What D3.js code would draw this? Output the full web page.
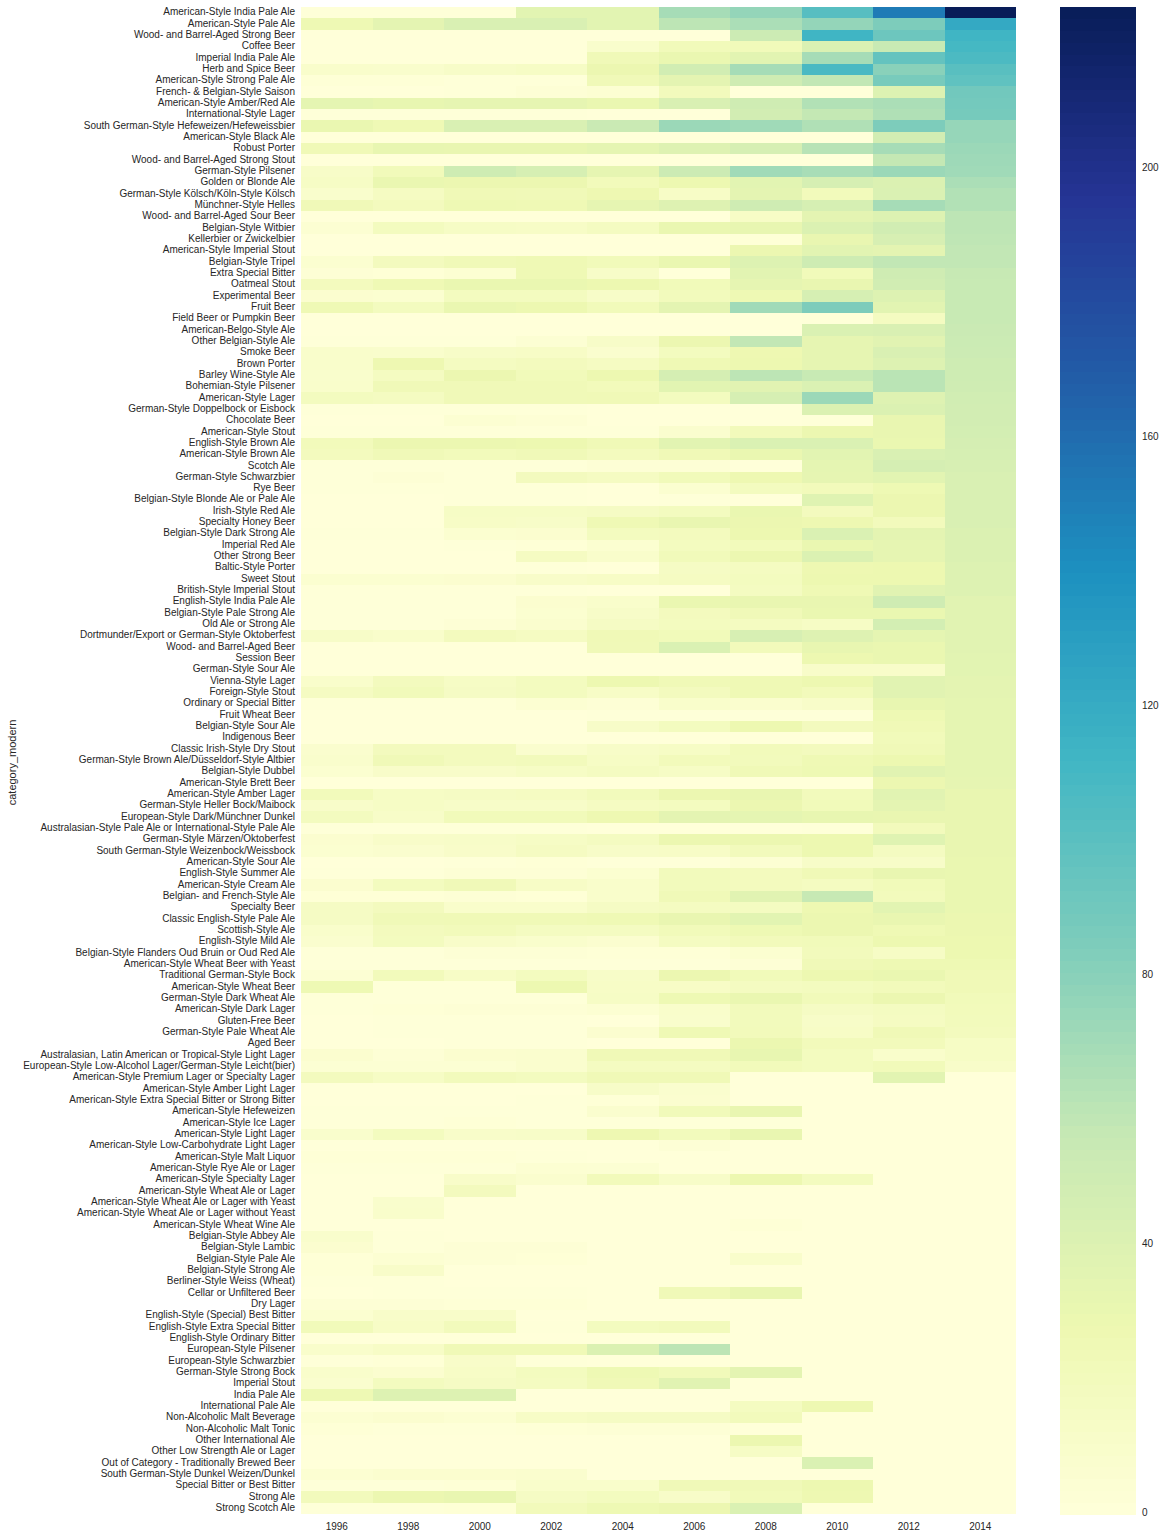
<!DOCTYPE html>
<html>
<head>
<meta charset="utf-8">
<script src="https://cdn.jsdelivr.net/npm/d3@7"></script>
<style>
  html, body { margin: 0; padding: 0; background: #fff; }
  svg { display: block; }
  text { font-family: "Liberation Sans", Arial, sans-serif; fill: #262626; }
  .tick text { font-size: 10px; }
  .axis-label { font-size: 11px; }
</style>
</head>
<body>
<svg id="chart" width="1166" height="1537"></svg>
<script>
// ----------

const YEARS = [1996, 1998, 2000, 2002, 2004, 2006, 2008, 2010, 2012, 2014];

const CATEGORIES = [
  "American-Style India Pale Ale", "American-Style Pale Ale", "Wood- and Barrel-Aged Strong Beer", "Coffee Beer",
  "Imperial India Pale Ale", "Herb and Spice Beer", "American-Style Strong Pale Ale", "French- & Belgian-Style Saison",
  "American-Style Amber/Red Ale", "International-Style Lager", "South German-Style Hefeweizen/Hefeweissbier",
  "American-Style Black Ale", "Robust Porter", "Wood- and Barrel-Aged Strong Stout", "German-Style Pilsener",
  "Golden or Blonde Ale", "German-Style Kölsch/Köln-Style Kölsch", "Münchner-Style Helles",
  "Wood- and Barrel-Aged Sour Beer", "Belgian-Style Witbier", "Kellerbier or Zwickelbier",
  "American-Style Imperial Stout", "Belgian-Style Tripel", "Extra Special Bitter", "Oatmeal Stout",
  "Experimental Beer", "Fruit Beer", "Field Beer or Pumpkin Beer", "American-Belgo-Style Ale",
  "Other Belgian-Style Ale", "Smoke Beer", "Brown Porter", "Barley Wine-Style Ale", "Bohemian-Style Pilsener",
  "American-Style Lager", "German-Style Doppelbock or Eisbock", "Chocolate Beer", "American-Style Stout",
  "English-Style Brown Ale", "American-Style Brown Ale", "Scotch Ale", "German-Style Schwarzbier", "Rye Beer",
  "Belgian-Style Blonde Ale or Pale Ale", "Irish-Style Red Ale", "Specialty Honey Beer",
  "Belgian-Style Dark Strong Ale", "Imperial Red Ale", "Other Strong Beer", "Baltic-Style Porter", "Sweet Stout",
  "British-Style Imperial Stout", "English-Style India Pale Ale", "Belgian-Style Pale Strong Ale",
  "Old Ale or Strong Ale", "Dortmunder/Export or German-Style Oktoberfest", "Wood- and Barrel-Aged Beer",
  "Session Beer", "German-Style Sour Ale", "Vienna-Style Lager", "Foreign-Style Stout", "Ordinary or Special Bitter",
  "Fruit Wheat Beer", "Belgian-Style Sour Ale", "Indigenous Beer", "Classic Irish-Style Dry Stout",
  "German-Style Brown Ale/Düsseldorf-Style Altbier", "Belgian-Style Dubbel", "American-Style Brett Beer",
  "American-Style Amber Lager", "German-Style Heller Bock/Maibock", "European-Style Dark/Münchner Dunkel",
  "Australasian-Style Pale Ale or International-Style Pale Ale", "German-Style Märzen/Oktoberfest",
  "South German-Style Weizenbock/Weissbock", "American-Style Sour Ale", "English-Style Summer Ale",
  "American-Style Cream Ale", "Belgian- and French-Style Ale", "Specialty Beer", "Classic English-Style Pale Ale",
  "Scottish-Style Ale", "English-Style Mild Ale", "Belgian-Style Flanders Oud Bruin or Oud Red Ale",
  "American-Style Wheat Beer with Yeast", "Traditional German-Style Bock", "American-Style Wheat Beer",
  "German-Style Dark Wheat Ale", "American-Style Dark Lager", "Gluten-Free Beer", "German-Style Pale Wheat Ale",
  "Aged Beer", "Australasian, Latin American or Tropical-Style Light Lager",
  "European-Style Low-Alcohol Lager/German-Style Leicht(bier)", "American-Style Premium Lager or Specialty Lager",
  "American-Style Amber Light Lager", "American-Style Extra Special Bitter or Strong Bitter",
  "American-Style Hefeweizen", "American-Style Ice Lager", "American-Style Light Lager",
  "American-Style Low-Carbohydrate Light Lager", "American-Style Malt Liquor", "American-Style Rye Ale or Lager",
  "American-Style Specialty Lager", "American-Style Wheat Ale or Lager", "American-Style Wheat Ale or Lager with Yeast",
  "American-Style Wheat Ale or Lager without Yeast", "American-Style Wheat Wine Ale", "Belgian-Style Abbey Ale",
  "Belgian-Style Lambic", "Belgian-Style Pale Ale", "Belgian-Style Strong Ale", "Berliner-Style Weiss (Wheat)",
  "Cellar or Unfiltered Beer", "Dry Lager", "English-Style (Special) Best Bitter", "English-Style Extra Special Bitter",
  "English-Style Ordinary Bitter", "European-Style Pilsener", "European-Style Schwarzbier", "German-Style Strong Bock",
  "Imperial Stout", "India Pale Ale", "International Pale Ale", "Non-Alcoholic Malt Beverage",
  "Non-Alcoholic Malt Tonic", "Other International Ale", "Other Low Strength Ale or Lager",
  "Out of Category - Traditionally Brewed Beer", "South German-Style Dunkel Weizen/Dunkel",
  "Special Bitter or Best Bitter", "Strong Ale", "Strong Scotch Ale",
];

// one row per category, one value per year
const COUNTS = [
  [1, 1, 1, 36, 36, 69, 76, 102, 152, 224],
  [26, 35, 43, 43, 36, 60, 67, 76, 85, 122],
  [0, 0, 0, 0, 0, 0, 52, 113, 92, 113],
  [0, 0, 0, 0, 9, 22, 22, 42, 55, 110],
  [0, 0, 0, 0, 23, 30, 36, 69, 96, 107],
  [10, 9, 12, 14, 29, 49, 69, 108, 80, 101],
  [2, 2, 1, 1, 23, 35, 50, 58, 87, 98],
  [0, 0, 1, 3, 5, 20, 0, 0, 40, 90],
  [34, 32, 33, 33, 30, 43, 50, 64, 67, 89],
  [1, 1, 1, 1, 0, 0, 48, 57, 65, 88],
  [30, 25, 43, 43, 54, 73, 71, 65, 85, 75],
  [0, 0, 0, 0, 0, 0, 0, 0, 48, 75],
  [24, 32, 31, 31, 34, 39, 45, 62, 69, 73],
  [0, 0, 0, 0, 0, 0, 0, 0, 57, 72],
  [12, 22, 51, 45, 33, 52, 71, 68, 73, 71],
  [14, 30, 29, 29, 21, 28, 36, 45, 41, 67],
  [9, 16, 24, 23, 27, 13, 35, 21, 42, 64],
  [23, 19, 26, 25, 33, 39, 50, 45, 69, 64],
  [0, 0, 0, 0, 0, 0, 13, 35, 40, 60],
  [5, 18, 14, 13, 17, 30, 32, 41, 49, 60],
  [0, 0, 0, 0, 0, 0, 2, 31, 44, 59],
  [0, 0, 0, 0, 0, 0, 29, 36, 35, 58],
  [6, 19, 23, 25, 22, 30, 40, 51, 58, 58],
  [3, 2, 5, 25, 12, 0, 36, 22, 50, 56],
  [19, 25, 30, 30, 28, 22, 33, 31, 49, 55],
  [7, 6, 18, 18, 12, 20, 26, 45, 40, 55],
  [25, 18, 30, 28, 22, 35, 71, 85, 36, 55],
  [0, 0, 0, 0, 0, 0, 0, 1, 17, 55],
  [0, 0, 0, 0, 0, 0, 0, 42, 43, 54],
  [1, 1, 1, 4, 12, 29, 58, 33, 37, 53],
  [10, 9, 12, 13, 8, 18, 27, 33, 43, 52],
  [10, 27, 17, 19, 16, 25, 28, 33, 40, 51],
  [9, 17, 29, 22, 28, 46, 60, 55, 61, 51],
  [10, 23, 23, 23, 21, 36, 37, 42, 61, 50],
  [18, 17, 23, 23, 24, 18, 45, 73, 39, 49],
  [1, 1, 1, 1, 0, 0, 0, 41, 41, 48],
  [0, 0, 5, 3, 0, 0, 0, 1, 31, 48],
  [1, 1, 1, 1, 1, 8, 21, 29, 31, 47],
  [21, 29, 29, 28, 24, 36, 42, 42, 30, 46],
  [19, 23, 21, 23, 19, 24, 30, 36, 43, 45],
  [1, 1, 1, 1, 3, 3, 0, 34, 46, 44],
  [1, 3, 1, 19, 16, 22, 27, 33, 36, 43],
  [1, 1, 1, 1, 0, 6, 18, 21, 26, 43],
  [0, 0, 1, 1, 0, 1, 0, 38, 29, 43],
  [0, 0, 14, 14, 15, 18, 30, 19, 29, 43],
  [0, 0, 13, 12, 25, 31, 29, 27, 20, 43],
  [1, 1, 6, 7, 18, 19, 28, 42, 35, 41],
  [0, 0, 1, 2, 6, 18, 21, 30, 33, 41],
  [0, 0, 0, 16, 10, 22, 29, 41, 33, 41],
  [0, 0, 0, 1, 0, 15, 17, 27, 28, 40],
  [6, 6, 7, 11, 13, 16, 18, 28, 28, 40],
  [1, 1, 1, 1, 0, 0, 17, 25, 37, 40],
  [1, 1, 1, 7, 10, 30, 31, 31, 50, 37],
  [1, 1, 1, 6, 12, 19, 23, 30, 30, 37],
  [1, 1, 3, 8, 15, 18, 17, 14, 47, 37],
  [12, 10, 19, 16, 24, 22, 44, 39, 34, 37],
  [0, 0, 0, 0, 23, 42, 21, 32, 30, 37],
  [0, 0, 0, 0, 0, 0, 0, 28, 30, 36],
  [0, 0, 0, 0, 0, 0, 0, 11, 11, 36],
  [10, 19, 14, 18, 28, 24, 25, 28, 37, 35],
  [16, 22, 15, 18, 13, 19, 25, 21, 37, 35],
  [1, 1, 1, 5, 3, 10, 8, 11, 32, 34],
  [0, 0, 0, 0, 1, 1, 1, 1, 26, 34],
  [0, 0, 0, 0, 12, 18, 28, 19, 24, 34],
  [0, 0, 0, 0, 0, 0, 0, 0, 22, 34],
  [8, 19, 19, 8, 12, 14, 21, 19, 23, 34],
  [9, 23, 19, 20, 14, 21, 20, 25, 28, 34],
  [6, 11, 11, 14, 17, 14, 24, 26, 37, 34],
  [0, 0, 0, 0, 0, 0, 0, 0, 29, 33],
  [21, 14, 15, 16, 20, 29, 31, 20, 37, 31],
  [11, 14, 12, 12, 16, 18, 29, 22, 35, 31],
  [18, 12, 22, 22, 27, 35, 34, 32, 31, 31],
  [1, 1, 1, 1, 0, 0, 0, 1, 20, 31],
  [7, 11, 12, 14, 17, 29, 29, 28, 38, 31],
  [6, 8, 11, 16, 12, 13, 20, 28, 17, 31],
  [0, 0, 1, 2, 1, 1, 4, 12, 12, 30],
  [1, 1, 3, 3, 6, 20, 19, 24, 31, 30],
  [7, 18, 23, 13, 10, 20, 19, 17, 22, 30],
  [2, 2, 3, 2, 10, 23, 37, 56, 20, 30],
  [15, 19, 10, 10, 15, 17, 17, 27, 36, 30],
  [15, 23, 24, 24, 25, 31, 36, 29, 31, 29],
  [10, 19, 21, 17, 17, 22, 26, 29, 25, 29],
  [8, 18, 11, 9, 7, 17, 21, 22, 28, 28],
  [1, 1, 3, 3, 2, 2, 6, 20, 14, 28],
  [1, 1, 1, 1, 1, 1, 3, 23, 26, 26],
  [4, 21, 13, 18, 12, 29, 22, 28, 30, 24],
  [26, 1, 1, 28, 13, 13, 17, 18, 21, 24],
  [1, 1, 1, 1, 14, 26, 30, 22, 29, 22],
  [1, 2, 3, 3, 5, 10, 20, 15, 17, 21],
  [0, 1, 1, 1, 0, 9, 20, 12, 16, 20],
  [0, 1, 1, 1, 7, 25, 21, 13, 24, 19],
  [0, 0, 1, 1, 0, 0, 29, 21, 21, 14],
  [7, 3, 7, 8, 24, 24, 32, 18, 10, 14],
  [4, 4, 4, 8, 17, 17, 21, 18, 22, 11],
  [19, 14, 20, 18, 24, 24, 0, 0, 36, 0],
  [0, 0, 0, 0, 12, 8, 0, 0, 0, 0],
  [0, 0, 0, 1, 2, 7, 0, 0, 0, 0],
  [1, 1, 1, 1, 8, 22, 31, 0, 0, 0],
  [1, 1, 2, 1, 1, 1, 1, 0, 0, 0],
  [9, 18, 11, 12, 27, 20, 31, 0, 0, 0],
  [0, 0, 0, 0, 0, 3, 0, 0, 0, 0],
  [2, 2, 2, 1, 0, 0, 0, 0, 0, 0],
  [1, 1, 1, 5, 4, 0, 0, 0, 0, 0],
  [0, 0, 11, 8, 21, 12, 28, 18, 0, 0],
  [0, 0, 19, 0, 0, 0, 0, 0, 0, 0],
  [0, 9, 0, 0, 0, 0, 0, 0, 0, 0],
  [0, 10, 0, 0, 0, 0, 0, 0, 0, 0],
  [0, 0, 0, 0, 0, 0, 2, 0, 0, 0],
  [9, 1, 0, 0, 0, 0, 0, 0, 0, 0],
  [7, 1, 3, 3, 0, 0, 0, 0, 0, 0],
  [2, 5, 3, 2, 0, 0, 10, 0, 0, 0],
  [2, 11, 0, 0, 0, 0, 0, 0, 0, 0],
  [1, 1, 0, 0, 0, 0, 0, 0, 0, 0],
  [0, 1, 1, 1, 0, 23, 31, 0, 0, 0],
  [3, 3, 2, 2, 0, 0, 0, 0, 0, 0],
  [6, 11, 11, 0, 0, 0, 0, 0, 0, 0],
  [22, 13, 20, 1, 18, 20, 0, 0, 0, 0],
  [0, 0, 0, 0, 0, 0, 0, 0, 0, 0],
  [10, 13, 24, 24, 41, 60, 0, 0, 0, 0],
  [1, 2, 11, 1, 0, 0, 0, 0, 0, 0],
  [10, 7, 13, 18, 26, 22, 35, 0, 0, 0],
  [8, 18, 15, 17, 24, 37, 0, 0, 0, 0],
  [26, 40, 40, 0, 0, 0, 0, 0, 0, 0],
  [0, 0, 0, 0, 0, 0, 17, 27, 0, 0],
  [5, 7, 5, 13, 15, 15, 20, 0, 0, 0],
  [2, 1, 1, 2, 3, 3, 0, 0, 0, 0],
  [0, 0, 0, 0, 0, 0, 29, 0, 0, 0],
  [0, 0, 0, 0, 0, 0, 14, 0, 0, 0],
  [0, 0, 0, 0, 0, 0, 0, 42, 0, 0],
  [5, 7, 7, 8, 0, 0, 0, 0, 0, 0],
  [1, 1, 2, 10, 10, 23, 23, 28, 0, 0],
  [20, 29, 31, 15, 18, 12, 22, 27, 0, 0],
  [1, 1, 2, 21, 26, 29, 42, 0, 0, 0],
];

const COLORBAR_TICKS = [0, 40, 80, 120, 160, 200];
const MAX_VALUE = 224;

// YlGnBu, the 9 class version matplotlib uses
const YLGNBU = ["#ffffd9", "#edf8b1", "#c7e9b4", "#7fcdbb", "#41b6c4", "#1d91c0", "#225ea8", "#253494", "#081d58"];

const MARGIN = { left: 301, top: 7, right: 1016, bottom: 1514 };
const COLORBAR_LEFT = 1060;
const COLORBAR_RIGHT = 1136;
const COLORBAR_LEVELS = 128;

// ----------

const color = d3
  .scaleLinear()
  .domain(YLGNBU.map((c, i) => (i * MAX_VALUE) / (YLGNBU.length - 1)))
  .range(YLGNBU);

const x = d3.scaleBand().domain(YEARS).range([MARGIN.left, MARGIN.right]);
const y = d3.scaleBand().domain(CATEGORIES).range([MARGIN.top, MARGIN.bottom]);
const colorbarY = d3.scaleLinear().domain([0, MAX_VALUE]).range([MARGIN.bottom, MARGIN.top]);

const svg = d3.select("#chart");

// ----------------- heatmap cells

const rows = svg
  .append("g")
  .attr("shape-rendering", "crispEdges")
  .selectAll("g")
  .data(COUNTS)
  .join("g")
  .attr("transform", (d, i) => `translate(0,${y(CATEGORIES[i])})`);

rows
  .selectAll("rect")
  .data((d) => d)
  .join("rect")
  .attr("x", (d, i) => x(YEARS[i]))
  .attr("width", x.bandwidth())
  .attr("height", y.bandwidth())
  .attr("fill", (d) => color(d));

// ----------------- axes

function cleanAxis(g) {
  g.select(".domain").remove();
  g.selectAll(".tick line").remove();
  g.selectAll(".tick text").attr("fill", "#262626");
}

// labels sit a little above the row centre in the original
svg
  .append("g")
  .attr("transform", `translate(${MARGIN.left},-0.6)`)
  .call(d3.axisLeft(y).tickSize(0).tickPadding(6))
  .call(cleanAxis);

svg
  .append("g")
  .attr("transform", `translate(0,${MARGIN.bottom})`)
  .call(d3.axisBottom(x).tickSize(0).tickPadding(9))
  .call(cleanAxis);

svg
  .append("text")
  .attr("class", "axis-label")
  .attr("text-anchor", "middle")
  .attr("transform", `translate(16,${(MARGIN.top + MARGIN.bottom) / 2 + 2}) rotate(-90)`)
  .text("category_modern");

// ----------------- colorbar

const levels = d3.range(COLORBAR_LEVELS).map((i) => (i * MAX_VALUE) / COLORBAR_LEVELS);

svg
  .append("g")
  .attr("shape-rendering", "crispEdges")
  .selectAll("rect")
  .data(levels)
  .join("rect")
  .attr("x", COLORBAR_LEFT)
  .attr("width", COLORBAR_RIGHT - COLORBAR_LEFT)
  .attr("y", (d) => colorbarY(d + MAX_VALUE / COLORBAR_LEVELS))
  .attr("height", (d) => colorbarY(d) - colorbarY(d + MAX_VALUE / COLORBAR_LEVELS) + 0.5)
  .attr("fill", (d) => color(d + MAX_VALUE / COLORBAR_LEVELS / 2));

svg
  .append("g")
  .attr("transform", `translate(${COLORBAR_RIGHT},-1.5)`)
  .call(d3.axisRight(colorbarY).tickValues(COLORBAR_TICKS).tickSize(0).tickPadding(6))
  .call(cleanAxis);
</script>
</body>
</html>
